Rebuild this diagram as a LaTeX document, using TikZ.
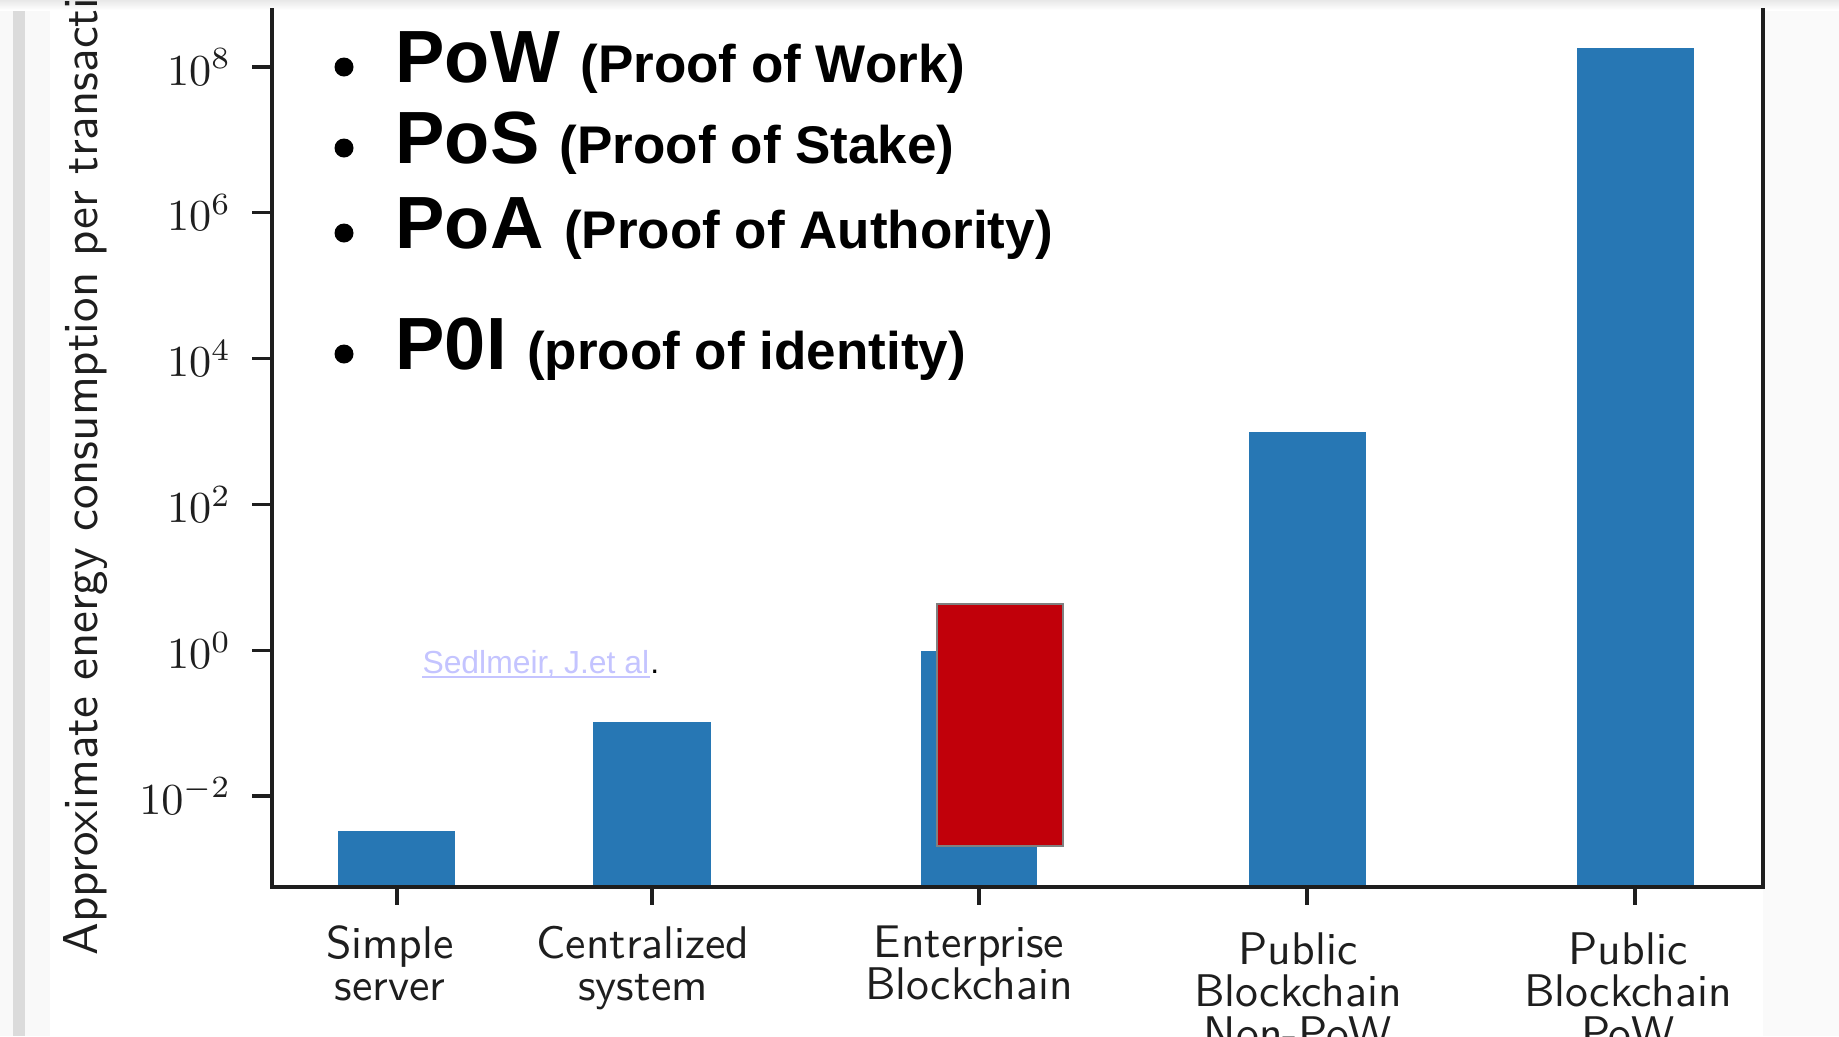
\documentclass[tikz,border=0pt]{standalone}
\usepackage{fontspec}
\newfontfamily\arialf{Liberation Sans}
\definecolor{barblue}{RGB}{39,119,180}
\definecolor{redbox}{RGB}{193,0,10}
\definecolor{citecol}{RGB}{196,196,255}
\definecolor{inkc}{RGB}{30,30,30}
\tikzset{
  bar/.style={fill=barblue},
  axisline/.style={line width=1.45pt, draw=inkc, line join=miter},
  tickline/.style={line width=1.3pt, draw=inkc},
  ylab/.style={anchor=east, inner sep=0pt, text=inkc, font=\fontsize{10}{12}\selectfont, scale=1.77},
  xlab/.style={anchor=north, inner sep=0pt, align=center, text=inkc, font=\sffamily\fontsize{10}{9.2}\selectfont, scale=1.83},
  bul/.style={fill=black},
  item/.style={anchor=base west, inner sep=0pt, font=\arialf\bfseries},
}
\newcommand{\bigt}[1]{{\fontsize{29.6}{30}\selectfont #1\ }}
\newcommand{\smallt}[1]{{\fontsize{21.2}{22}\selectfont #1}}
\begin{document}
\begin{tikzpicture}[x=0.4pt,y=-0.4pt]
\clip (0,0) rectangle (1839,1036);
% background
\fill[white] (0,0) rectangle (1839,1036);
\fill[gray!5] (0,0) rectangle (50,1036);
\fill[gray!28] (13,0) rectangle (25,1036);
\fill[gray!4] (1763,0) rectangle (1839,1036);
\shade[top color=gray!18, bottom color=white] (0,0) rectangle (1839,10);
% bars
\fill[bar] (338,831) rectangle (455,887);
\fill[bar] (593,722) rectangle (711,887);
\fill[bar] (921,651) rectangle (1037,887);
\fill[bar] (1249,432) rectangle (1366,887);
\fill[bar] (1577,48) rectangle (1694,887);
% red box
\filldraw[fill=redbox, draw=gray, line width=0.7pt] (937,604) rectangle (1063,846);
% axes
\draw[axisline] (272,8) -- (272,887) -- (1763,887) -- (1763,8);
% y ticks
\foreach \yy/\ee/\nn in {67/8/a, 212.8/6/b, 358.6/4/c, 504.4/2/d, 650.2/0/e, 796/-2/f}{
  \draw[tickline] (252,\yy) -- (272,\yy);
  \node[ylab] (yt\nn) at (232,\yy) {$10^{\ee}$};
}
% x ticks
\foreach \xx in {397,652,979,1307,1635}{
  \draw[tickline] (\xx,887) -- (\xx,905);
}
\node[xlab] (xl1) at (390,925) {Simple\\server};
\node[xlab] (xl2) at (643,925) {Centralized\\system};
\node[xlab] (xl3) at (969,925) {Enterprise\\Blockchain};
\node[xlab] (xl4) at (1298,932) {Public\\Blockchain\\Non-PoW};
\node[xlab] (xl5) at (1628,932) {Public\\Blockchain\\PoW};
% y axis label
\node[rotate=90, anchor=base west, inner sep=0pt, text=inkc, font=\sffamily\fontsize{10}{12}\selectfont, scale=1.96] (ylabel) at (97,956) {Approximate energy consumption per transaction};
% citation
\node[anchor=base west, inner sep=0pt, text=citecol, font=\arialf\fontsize{12.75}{15}\selectfont] (cit) at (422,673) {Sedlmeir, J.et al};
\draw[citecol, line width=0.8pt] ([yshift=-1.6pt]cit.base west) -- ([yshift=-1.6pt]cit.base east);
\node[anchor=base west, inner sep=0pt, font=\arialf\fontsize{12.75}{15}\selectfont] (citdot) at (cit.base east) {.};
% bullet list
\fill[bul] (344,67) circle (9.5);
\fill[bul] (344,148) circle (9.5);
\fill[bul] (344,233) circle (9.5);
\fill[bul] (344,354) circle (9.5);
\node[item] (i1) at (395,82) {\bigt{PoW}\smallt{(Proof of Work)}};
\node[item] (i2) at (395,163) {\bigt{PoS}\smallt{(Proof of Stake)}};
\node[item] (i3) at (395,248) {\bigt{PoA}\smallt{(Proof of Authority)}};
\node[item] (i4) at (395,369) {\bigt{P0I}\smallt{(proof of identity)}};
\end{tikzpicture}
\end{document}
